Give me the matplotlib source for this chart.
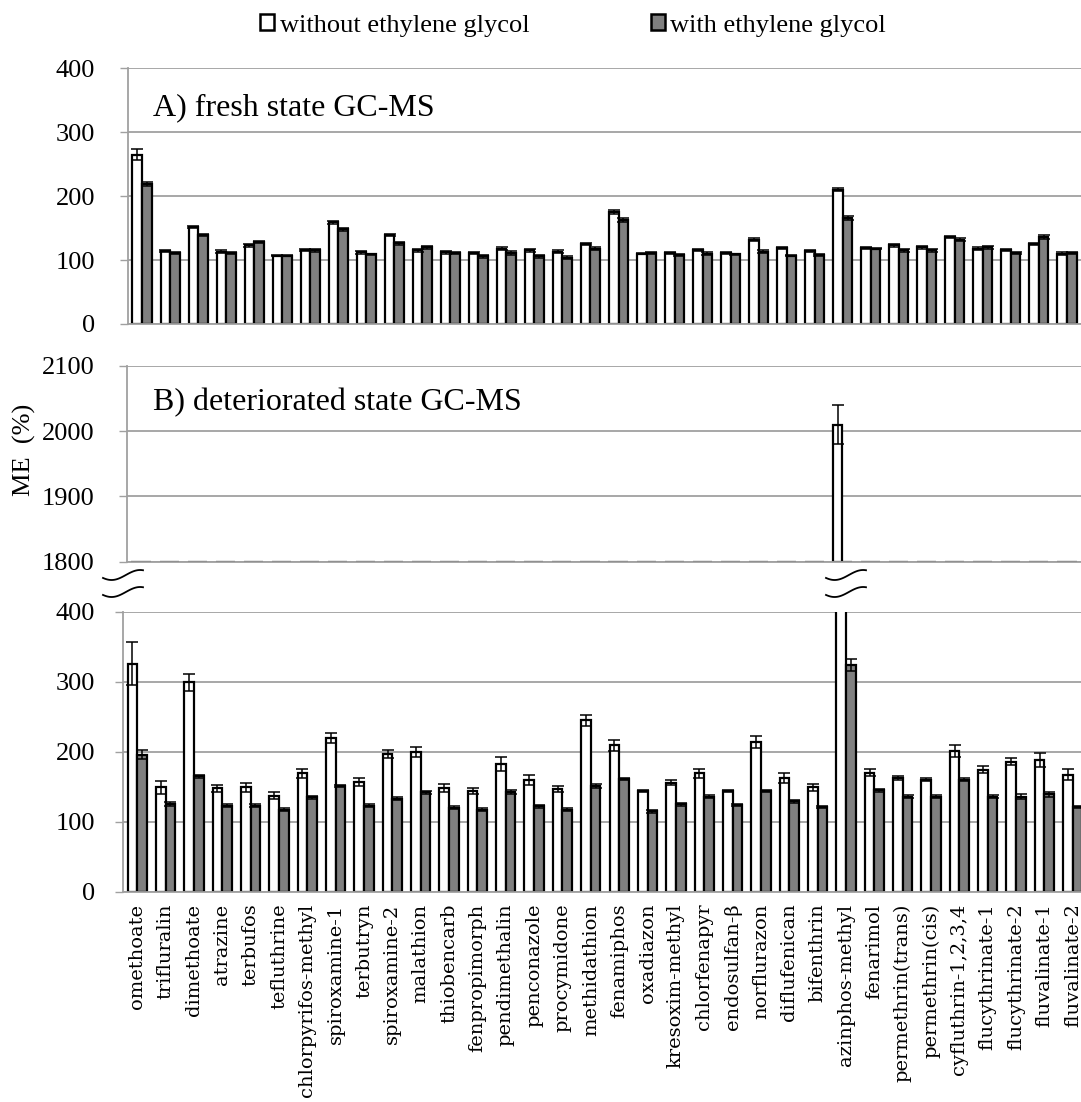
import numpy as np
import matplotlib
matplotlib.use("Agg")
import matplotlib.pyplot as plt
from matplotlib.lines import Line2D
from matplotlib.patches import Patch

plt.rcParams['font.family'] = ['Liberation Serif', 'DejaVu Serif']

compounds = [
    "omethoate", "trifluralin", "dimethoate", "atrazine", "terbufos",
    "tefluthrine", "chlorpyrifos-methyl", "spiroxamine-1", "terbutryn",
    "spiroxamine-2", "malathion", "thiobencarb", "fenpropimorph",
    "pendimethalin", "penconazole", "procymidone", "methidathion",
    "fenamiphos", "oxadiazon", "kresoxim-methyl", "chlorfenapyr",
    "endosulfan-β", "norflurazon", "diflufenican", "bifenthrin",
    "azinphos-methyl", "fenarimol", "permethrin(trans)", "permethrin(cis)",
    "cyfluthrin-1,2,3,4", "flucythrinate-1", "flucythrinate-2",
    "fluvalinate-1", "fluvalinate-2",
]

# A) fresh state, matrix effect (%)
fresh_without = [265, 114, 152, 113, 123, 107, 116, 159, 112, 139, 115, 112,
                 111, 118, 115, 113, 125, 175, 110, 111, 116, 111, 132, 119,
                 114, 210, 119, 123, 120, 136, 118, 116, 125, 110]
fresh_without_err = [8, 2, 2, 2, 2, 1, 2, 2, 2, 2, 2, 2, 1, 2, 2, 2, 2, 3,
                     1, 1, 2, 2, 2, 2, 2, 2, 2, 2, 2, 2, 2, 2, 2, 2]
fresh_with = [219, 111, 139, 111, 128, 107, 115, 148, 109, 126, 120, 111,
              106, 111, 106, 104, 118, 163, 111, 108, 110, 109, 113, 107,
              108, 166, 118, 115, 115, 132, 120, 111, 136, 111]
fresh_with_err = [3, 2, 2, 1, 2, 1, 2, 2, 1, 2, 2, 1, 2, 3, 2, 2, 2, 3,
                  1, 2, 2, 1, 2, 1, 2, 3, 1, 2, 2, 2, 2, 2, 3, 2]

# B) deteriorated state, matrix effect (%)
det_without = [326, 149, 299, 148, 149, 137, 169, 220, 157, 197, 200, 148,
               144, 182, 160, 147, 245, 209, 144, 156, 169, 144, 214, 162,
               149, 2010, 170, 162, 160, 201, 174, 186, 188, 167]
det_without_err = [31, 9, 12, 5, 7, 5, 6, 7, 6, 6, 7, 6, 4, 10, 7, 4, 8, 8,
                   2, 3, 6, 2, 8, 7, 5, 30, 5, 3, 2, 8, 5, 5, 10, 8]
det_with = [196, 125, 165, 123, 123, 117, 135, 151, 123, 133, 142, 120,
            117, 142, 122, 117, 151, 161, 115, 125, 136, 124, 144, 129,
            121, 324, 145, 136, 136, 160, 136, 136, 139, 121]
det_with_err = [6, 3, 2, 2, 2, 2, 2, 2, 2, 2, 2, 2, 2, 3, 2, 2, 3, 2,
                2, 2, 2, 2, 2, 2, 2, 8, 2, 2, 2, 2, 2, 3, 3, 2]

series_labels = ["without ethylene glycol", "with ethylene glycol"]

W, H = 1081, 1102
fig = plt.figure(figsize=(W / 100, H / 100), dpi=100)

GRID = '#a0a0a0'
GRAY_BAR = '#808080'
BAR_W = 0.34


def px_axes(left, right, top, bottom):
    return fig.add_axes([left / W, 1 - bottom / H, (right - left) / W, (bottom - top) / H])


def draw_panel(ax, a, ea, b, eb, ylo, yhi, ticks, label_pad):
    x = np.arange(len(compounds))
    for off, vals, err, fc in ((-BAR_W / 2, a, ea, 'white'),
                               (BAR_W / 2, b, eb, GRAY_BAR)):
        vals = np.asarray(vals, float)
        err = np.asarray(err, float)
        base = np.maximum(vals, ylo)
        # bars below the axis minimum collapse onto the baseline
        ax.bar(x + off, base - ylo, BAR_W, bottom=ylo, facecolor=fc,
               edgecolor='black', linewidth=1.6, zorder=2)
        shown = vals >= ylo
        ax.errorbar((x + off)[shown], vals[shown], yerr=err[shown], fmt='none',
                    ecolor='black', elinewidth=1.1, capsize=4, capthick=1.1,
                    zorder=3)
    ax.set_xlim(-0.5, len(compounds) - 0.5)
    ax.set_ylim(ylo, yhi)
    ax.set_yticks(ticks)
    ax.yaxis.grid(True, color=GRID, linewidth=1.3)
    ax.set_axisbelow(True)
    for s in ('top', 'right'):
        ax.spines[s].set_visible(False)
    for s in ('left', 'bottom'):
        ax.spines[s].set_color(GRID)
        ax.spines[s].set_linewidth(1.3)
    ax.tick_params(axis='y', direction='out', length=5.8, width=1.0,
                   color=GRID, labelsize=19, pad=label_pad)
    return x


axA = px_axes(128, 1081, 68.3, 324)
axB = px_axes(127, 1081, 366, 561.7)
axC = px_axes(123, 1087, 611.7, 891.7)

draw_panel(axA, fresh_without, fresh_without_err, fresh_with, fresh_with_err,
           0, 400, [0, 100, 200, 300, 400], 18)
draw_panel(axB, det_without, det_without_err, det_with, det_with_err,
           1800, 2100, [1800, 1900, 2000, 2100], 17.3)
x = draw_panel(axC, det_without, det_without_err, det_with, det_with_err,
               0, 400, [0, 100, 200, 300, 400], 14.4)

for ax in (axA, axB):
    ax.tick_params(axis='x', bottom=False, labelbottom=False)

axC.set_xticks(x)
axC.set_xticklabels(compounds, rotation=90, fontfamily='DejaVu Serif',
                    fontsize=14, va='top', ha='center')
axC.tick_params(axis='x', length=0, pad=8.5)

axA.text(0.026, 0.817, "A) fresh state GC-MS", transform=axA.transAxes,
         fontsize=23, va='baseline', ha='left')
axB.text(0.027, 0.775, "B) deteriorated state GC-MS", transform=axB.transAxes,
         fontsize=23, va='baseline', ha='left')

fig.text(24 / W, 1 - 450 / H, "ME  (%)", rotation=90, fontsize=19,
         ha='center', va='center')


# axis-break marks between the deteriorated panels
def squiggle(cx, cy, width=40, amp=5):
    t = np.linspace(-0.8 * np.pi, 0.6 * np.pi, 60)
    xs = cx + (t - t.mean()) * width / (t[-1] - t[0])
    ys = cy - amp * np.sin(t)
    fig.add_artist(Line2D(xs / W, 1 - ys / H, transform=fig.transFigure,
                          color='black', linewidth=1.3))


for cx in (123, 846):
    squiggle(cx, 575)
    squiggle(cx, 592)

handles = [Patch(facecolor='white', edgecolor='black', linewidth=1.8),
           Patch(facecolor=GRAY_BAR, edgecolor='black', linewidth=1.8)]
fig.legend(handles, series_labels, loc='center',
           bbox_to_anchor=(573 / W, 1 - 25.5 / H), ncol=2, frameon=False,
           fontsize=19, handlelength=0.53, handleheight=0.53,
           handletextpad=0.2, columnspacing=4.6, borderpad=0.1)

fig.savefig("out.png", dpi=100)
